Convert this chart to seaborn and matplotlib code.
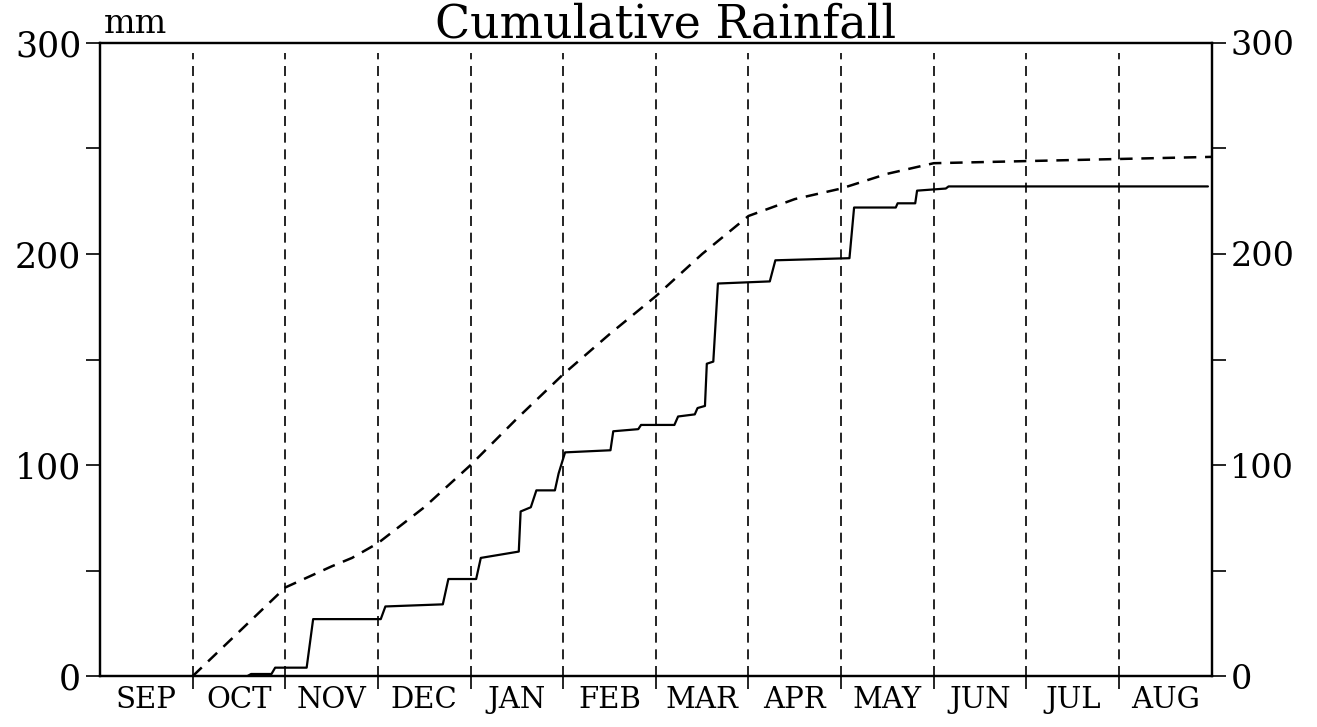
import numpy as np
import pandas as pd
import matplotlib
matplotlib.use('Agg')
import matplotlib.pyplot as plt
import seaborn as sns

# Months from 1 September (0 = Sep 1, 12 = Aug 31)
months = ['SEP', 'OCT', 'NOV', 'DEC', 'JAN', 'FEB', 'MAR', 'APR', 'MAY', 'JUN', 'JUL', 'AUG']

actual_t = [0.00, 1.59, 1.63, 1.85, 1.89, 2.23, 2.30, 3.03, 3.08, 3.70, 3.76, 4.06,
            4.11, 4.52, 4.54, 4.65, 4.71, 4.91, 4.95, 5.02, 5.51, 5.54, 5.81, 5.84,
            6.20, 6.24, 6.42, 6.45, 6.53, 6.55, 6.62, 6.67, 7.23, 7.29, 8.09, 8.14,
            8.59, 8.61, 8.80, 8.82, 9.13, 9.16, 11.96]
actual_mm = [0, 0, 1, 1, 4, 4, 27, 27, 33, 34, 46, 46,
             56, 59, 78, 80, 88, 88, 96, 106, 107, 116, 117, 119,
             119, 123, 124, 127, 128, 148, 149, 186, 187, 197, 198, 222,
             222, 224, 224, 230, 231, 232, 232]

# Long-term average cumulative rainfall (mm), dashed curve
avg_t = [1.0, 1.5, 2.0, 2.5, 2.72, 3.0, 3.5, 4.0, 4.5, 5.0, 5.5, 6.0, 6.5,
         7.0, 7.5, 8.0, 8.5, 9.0, 10.0, 11.0, 12.0]
avg_mm = [0, 21, 42, 52, 56, 63, 80, 100, 122, 143, 162, 180, 200,
          218, 226, 231, 238, 243, 244, 245, 246]

actual = pd.DataFrame({'t': actual_t, 'mm': actual_mm})
average = pd.DataFrame({'t': avg_t, 'mm': avg_mm})

sns.set_style('ticks', {'axes.edgecolor': 'black', 'xtick.color': 'black',
                        'ytick.color': 'black', 'text.color': 'black'})
plt.rcParams['font.family'] = ['DejaVu Serif']

fig = plt.figure(figsize=(13.17, 7.27), dpi=100)
ax = fig.add_axes([0.076, 0.070, 0.844, 0.871])

# month boundary lines
for m in range(1, 12):
    ax.plot([m, m], [0, 295], color='black', lw=1.2, dashes=(6, 4))

sns.lineplot(data=actual, x='t', y='mm', ax=ax, color='black', lw=1.6,
             estimator=None, sort=False)
sns.lineplot(data=average, x='t', y='mm', ax=ax, color='black', lw=1.8,
             estimator=None, sort=False)
ax.lines[-1].set_dashes((5, 3.5))

ax.set_xlim(0, 12)
ax.set_ylim(0, 300)
ax.set_xlabel('')
ax.set_ylabel('')

ax.set_xticks(range(1, 12))
ax.set_xticklabels([])
ax.set_xticks(np.arange(12) + 0.5, minor=True)
ax.set_xticklabels(months, minor=True, fontsize=21)
ax.tick_params(axis='x', which='major', direction='out', length=9, width=1.2)
ax.tick_params(axis='x', which='minor', length=0, pad=7, labelcolor='black')

ax.set_yticks([0, 100, 200, 300])
ax.set_yticks([50, 150, 250], minor=True)
ax.tick_params(axis='y', which='both', direction='out', length=10, width=1.2,
               labelsize=25, labelcolor='black')

ax2 = ax.twinx()
ax2.set_ylim(0, 300)
ax2.set_yticks([0, 100, 200, 300])
ax2.set_yticks([50, 150, 250], minor=True)
ax2.tick_params(axis='y', which='both', direction='out', length=10, width=1.2,
                labelsize=24, labelcolor='black')

for a in (ax, ax2):
    for s in a.spines.values():
        s.set_linewidth(1.6)
        s.set_color('black')
        s.set_visible(True)

fig.text(0.079, 0.955, 'mm', fontsize=24, ha='left', va='baseline')
fig.text(0.505, 0.948, 'Cumulative Rainfall', fontsize=33, ha='center', va='baseline')

fig.savefig('out.png', dpi=100, facecolor='white')
